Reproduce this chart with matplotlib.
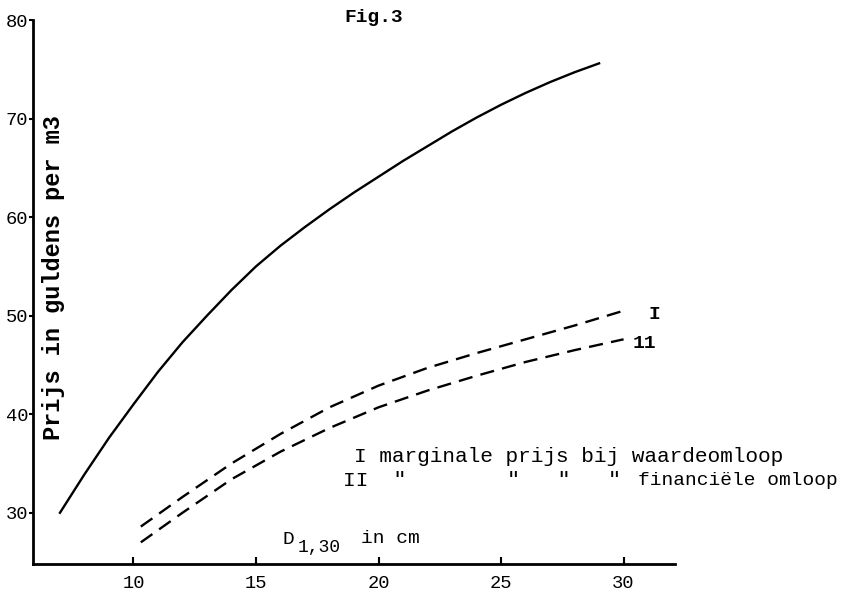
import matplotlib.pyplot as plt

# values
d_solid = [7, 8, 9, 10, 11, 12, 13, 14, 15, 16, 17, 18, 19, 20, 21, 22, 23, 24, 25, 26, 27, 28, 29]
p_solid = [30, 33.9, 37.6, 41.0, 44.3, 47.3, 50.0, 52.6, 55.0, 57.1, 59.0, 60.8, 62.5, 64.1, 65.7,
           67.2, 68.7, 70.1, 71.4, 72.6, 73.7, 74.7, 75.6]

d_waarde = [10.3, 12, 14, 16, 18, 20, 22, 24, 26, 28, 30]
p_waarde = [28.6, 31.6, 35.0, 38.0, 40.7, 42.9, 44.7, 46.2, 47.6, 49.0, 50.5]

d_financ = [10.3, 12, 14, 16, 18, 20, 22, 24, 26, 28, 30]
p_financ = [27.0, 30.0, 33.4, 36.2, 38.6, 40.7, 42.4, 43.9, 45.3, 46.5, 47.6]

xticks = [10, 15, 20, 25, 30]
yticks = [30, 40, 50, 60, 70, 80]

plt.rcParams['font.family'] = ['Liberation Mono', 'DejaVu Sans Mono']

fig = plt.figure(figsize=(8.42, 5.94), dpi=100)
ax = fig.add_axes([0.0392, 0.0505, 0.7625, 0.9158])

ax.plot(d_solid, p_solid, color='black', lw=1.7)
ax.plot(d_waarde, p_waarde, color='black', lw=1.7, linestyle=(0, (6, 3.5)))
ax.plot(d_financ, p_financ, color='black', lw=1.7, linestyle=(0, (6, 3.5)))

ax.set_xlim(5.9, 32.1)
ax.set_ylim(24.8, 80)
ax.set_xticks(xticks)
ax.set_yticks(yticks)
ax.spines['top'].set_visible(False)
ax.spines['right'].set_visible(False)
ax.spines['left'].set_linewidth(2)
ax.spines['bottom'].set_linewidth(2)
ax.tick_params(axis='x', direction='in', length=5, width=1.5, labelsize=13.5, pad=8)
ax.tick_params(axis='y', direction='out', length=3, width=1.5, labelsize=13.5, pad=0.5)

ax.text(6.73, 53.9, 'Prijs in guldens per m3', rotation=90, ha='center', va='center',
        fontsize=17, fontweight='bold')
ax.text(19.8, 80.3, 'Fig.3', ha='center', va='center', fontsize=14, fontweight='bold', clip_on=False)
ax.text(31.0, 50.1, 'I', ha='left', va='center', fontsize=14, fontweight='bold')
ax.text(30.37, 47.2, '11', ha='left', va='center', fontsize=14, fontweight='bold')

ax.text(18.98, 35.7, 'I marginale prijs bij waardeomloop', ha='left', va='center', fontsize=15.2)
ax.text(18.57, 33.3, 'II  "        "   "   "', ha='left', va='center', fontsize=15.2)
ax.text(30.57, 33.3, 'financiële omloop', ha='left', va='center', fontsize=14)

ax.text(16.1, 27.3, 'D', ha='left', va='center', fontsize=14)
ax.text(16.7, 26.5, '1,30', ha='left', va='center', fontsize=13)
ax.text(19.27, 27.4, 'in cm', ha='left', va='center', fontsize=14)

plt.savefig('out.png', dpi=100)
